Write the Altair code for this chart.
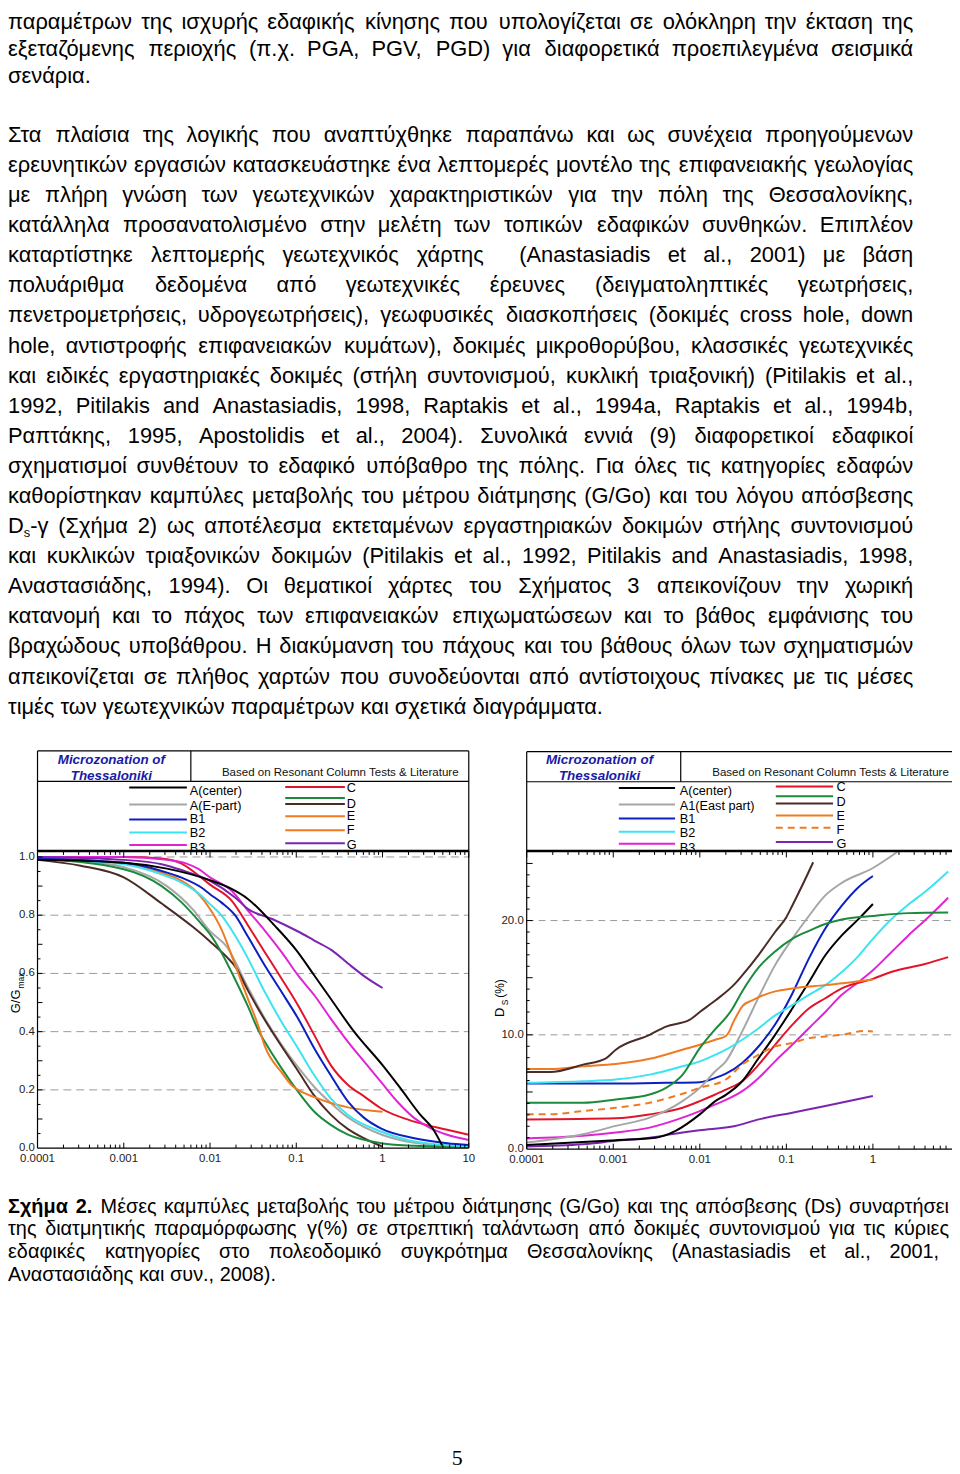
import re
import altair as alt
import pandas as pd

FONT = "Liberation Sans"

# ============================ DATA ============================
# Left panel: G/Gmax versus shear strain gamma (%)
GG_ACENTER_X = [0.0001, 0.001, 0.00316, 0.01, 0.0178, 0.0277, 0.0562, 0.1, 0.162, 0.251, 0.468, 1.0, 1.62, 2.75, 3.8, 4.9]
GG_ACENTER_Y = [0.99, 0.98, 0.96, 0.92, 0.89, 0.855, 0.764, 0.68, 0.593, 0.513, 0.40, 0.285, 0.205, 0.114, 0.068, 0.01]
GG_AEAST_X = [0.0001, 0.000316, 0.001, 0.00316, 0.00631, 0.01, 0.0158, 0.0277, 0.0432, 0.0676, 0.105, 0.162, 0.251, 0.398, 0.631, 1.0, 2.34, 5.62, 10]
GG_AEAST_Y = [0.99, 0.985, 0.965, 0.90, 0.82, 0.745, 0.69, 0.55, 0.445, 0.355, 0.278, 0.21, 0.155, 0.105, 0.07, 0.045, 0.018, 0.008, 0.005]
GG_B1_X = [0.0001, 0.001, 0.00275, 0.00468, 0.00794, 0.01, 0.0135, 0.0195, 0.0277, 0.0432, 0.0676, 0.105, 0.162, 0.251, 0.398, 0.617, 0.955, 2.34, 5.62, 10]
GG_B1_Y = [0.995, 0.98, 0.952, 0.929, 0.895, 0.872, 0.844, 0.80, 0.725, 0.627, 0.536, 0.445, 0.342, 0.25, 0.16, 0.103, 0.068, 0.034, 0.017, 0.011]
GG_B2_X = [0.0001, 0.001, 0.00275, 0.00468, 0.00794, 0.01, 0.0135, 0.0195, 0.0277, 0.0432, 0.0676, 0.105, 0.162, 0.251, 0.398, 0.955, 2.34, 10]
GG_B2_Y = [0.995, 0.975, 0.94, 0.912, 0.867, 0.838, 0.80, 0.73, 0.65, 0.536, 0.433, 0.342, 0.25, 0.171, 0.114, 0.057, 0.023, 0.006]
GG_B3_X = [0.0001, 0.001, 0.00316, 0.00525, 0.00741, 0.01, 0.0178, 0.0277, 0.0432, 0.0676, 0.105, 0.162, 0.251, 0.398, 0.617, 0.955, 1.48, 2.34, 3.63, 5.62, 10]
GG_B3_Y = [1.0, 1.0, 0.99, 0.978, 0.958, 0.93, 0.884, 0.815, 0.747, 0.673, 0.593, 0.525, 0.445, 0.365, 0.296, 0.228, 0.16, 0.103, 0.068, 0.046, 0.028]
GG_C_X = [0.0001, 0.001, 0.00275, 0.00468, 0.00676, 0.01, 0.0178, 0.0277, 0.0432, 0.0676, 0.105, 0.162, 0.251, 0.398, 0.617, 0.955, 2.34, 5.62, 10]
GG_C_Y = [1.0, 1.0, 0.995, 0.977, 0.945, 0.905, 0.85, 0.764, 0.673, 0.582, 0.49, 0.388, 0.285, 0.217, 0.177, 0.137, 0.091, 0.063, 0.046]
GG_D_X = [0.0001, 0.001, 0.00275, 0.00468, 0.00794, 0.01, 0.0135, 0.0195, 0.0277, 0.0363, 0.0432, 0.0676, 0.105, 0.162, 0.251, 0.398, 0.955, 2.34, 10]
GG_D_Y = [0.994, 0.958, 0.90, 0.844, 0.77, 0.735, 0.673, 0.58, 0.485, 0.405, 0.365, 0.274, 0.194, 0.125, 0.08, 0.046, 0.017, 0.008, 0.004]
GG_BROWN_X = [0.0001, 0.000316, 0.001, 0.00275, 0.00631, 0.01, 0.0158, 0.02, 0.0277, 0.0432, 0.0676, 0.105, 0.162, 0.251, 0.398, 0.617, 1.0]
GG_BROWN_Y = [0.99, 0.97, 0.93, 0.84, 0.76, 0.71, 0.655, 0.62, 0.54, 0.44, 0.35, 0.265, 0.18, 0.115, 0.065, 0.033, 0.005]
GG_E_X = [0.0001, 0.001, 0.00275, 0.00468, 0.00676, 0.01, 0.0135, 0.0195, 0.0277, 0.0363, 0.0432, 0.0676, 0.0891, 0.105, 0.162, 0.251, 0.398, 1.0]
GG_E_Y = [0.995, 0.98, 0.946, 0.918, 0.884, 0.821, 0.753, 0.63, 0.51, 0.42, 0.35, 0.26, 0.215, 0.20, 0.175, 0.155, 0.14, 0.125]
GG_G_X = [0.0001, 0.001, 0.00275, 0.00468, 0.01, 0.0195, 0.0277, 0.0525, 0.105, 0.162, 0.257, 0.398, 0.617, 1.0]
GG_G_Y = [1.0, 0.99, 0.975, 0.955, 0.918, 0.861, 0.821, 0.787, 0.744, 0.713, 0.68, 0.634, 0.59, 0.55]

# Right panel: damping Ds (%) versus shear strain gamma (%)
DS_ACENTER_X = [0.0001, 0.00107, 0.00309, 0.00525, 0.01, 0.0151, 0.02, 0.0309, 0.0479, 0.0741, 0.117, 0.182, 0.282, 0.437, 0.676, 1.0]
DS_ACENTER_Y = [0.35, 0.78, 1.0, 1.6, 3.04, 4.2, 4.75, 5.94, 7.97, 10.0, 12.3, 14.6, 16.96, 18.7, 20.1, 21.45]
DS_A1EAST_X = [0.0001, 0.000447, 0.00107, 0.00263, 0.00631, 0.01, 0.0151, 0.02, 0.0309, 0.0479, 0.0741, 0.117, 0.182, 0.282, 0.437, 1.0, 1.91]
DS_A1EAST_Y = [0.58, 1.3, 2.03, 2.75, 4.2, 5.36, 6.81, 7.68, 10.3, 13.3, 16.1, 18.4, 20.4, 22.2, 23.3, 24.6, 26.0]
DS_B1_X = [0.0001, 0.00107, 0.00407, 0.01, 0.0151, 0.02, 0.0309, 0.0479, 0.0741, 0.117, 0.182, 0.282, 0.437, 0.676, 1.0]
DS_B1_Y = [5.74, 5.74, 5.8, 5.86, 6.23, 6.6, 7.54, 9.0, 10.9, 13.6, 16.67, 19.3, 21.3, 22.9, 23.9]
DS_B2_X = [0.0001, 0.000447, 0.00107, 0.00263, 0.00631, 0.01, 0.0151, 0.02, 0.0309, 0.0479, 0.0741, 0.117, 0.182, 0.282, 0.437, 0.692, 1.0, 1.62, 2.57, 3.98, 7.41]
DS_B2_Y = [5.8, 5.94, 6.09, 6.52, 7.25, 7.68, 8.26, 8.7, 9.57, 10.58, 11.7, 12.6, 13.5, 14.35, 15.5, 16.96, 18.4, 20.1, 21.4, 22.5, 24.3]
DS_B3_X = [0.0001, 0.000447, 0.00107, 0.00263, 0.00631, 0.01, 0.0151, 0.02, 0.0309, 0.0479, 0.0741, 0.117, 0.182, 0.282, 0.437, 0.676, 1.0, 1.62, 2.57, 3.98, 7.41]
DS_B3_Y = [0.93, 1.16, 1.45, 1.88, 2.75, 3.33, 3.91, 4.3, 5.07, 6.23, 7.68, 9.13, 10.58, 12.0, 13.5, 14.6, 15.65, 17.2, 18.7, 20.0, 22.0]
DS_C_X = [0.0001, 0.00107, 0.00263, 0.00631, 0.01, 0.0151, 0.02, 0.0309, 0.0479, 0.0741, 0.117, 0.182, 0.282, 0.437, 1.0, 1.62, 3.98, 7.41]
DS_C_Y = [2.6, 2.7, 3.04, 3.62, 4.2, 4.78, 5.2, 5.94, 7.39, 9.13, 10.87, 12.3, 13.2, 14.06, 14.9, 15.5, 16.2, 16.8]
DS_D_X = [0.0001, 0.000447, 0.00107, 0.00263, 0.00407, 0.00631, 0.01, 0.0151, 0.02, 0.0234, 0.0309, 0.0479, 0.0741, 0.117, 0.182, 0.282, 0.437, 1.0, 2.57, 7.41]
DS_D_Y = [4.06, 4.06, 4.35, 4.78, 5.36, 6.5, 8.84, 10.5, 11.5, 12.2, 13.8, 15.9, 17.3, 18.4, 19.1, 19.7, 20.1, 20.4, 20.65, 20.7]
DS_BROWN_X = [0.0001, 0.000186, 0.000447, 0.000832, 0.00107, 0.00263, 0.00407, 0.00759, 0.01, 0.0151, 0.0257, 0.0309, 0.0479, 0.0741, 0.1, 0.117, 0.151, 0.204]
DS_BROWN_Y = [6.75, 6.75, 7.39, 7.97, 8.7, 10.0, 10.72, 11.3, 12.0, 13.0, 14.5, 15.2, 17.0, 19.0, 20.3, 21.3, 23.0, 25.1]
DS_E_X = [0.0001, 0.000186, 0.000447, 0.00107, 0.00263, 0.00631, 0.01, 0.0151, 0.02, 0.0219, 0.024, 0.0282, 0.0309, 0.0398, 0.0479, 0.0741, 0.117, 0.282, 1.0]
DS_E_Y = [7.0, 7.0, 7.25, 7.45, 7.9, 8.7, 9.13, 9.57, 9.9, 10.3, 11.0, 12.0, 12.5, 13.0, 13.3, 13.8, 14.06, 14.35, 14.85]
DS_F_X = [0.0001, 0.000186, 0.000447, 0.00107, 0.00263, 0.00631, 0.01, 0.02, 0.0309, 0.0479, 0.0741, 0.117, 0.182, 0.282, 0.437, 0.813, 1.0]
DS_F_Y = [3.04, 3.04, 3.33, 3.62, 4.06, 4.84, 5.36, 6.09, 7.39, 8.26, 8.99, 9.28, 9.71, 9.86, 10.0, 10.35, 10.3]
DS_G_X = [0.0001, 0.000447, 0.00107, 0.00263, 0.00631, 0.01, 0.0257, 0.0479, 0.117, 0.282, 1.0]
DS_G_Y = [0.23, 0.43, 0.72, 1.0, 1.45, 1.65, 2.03, 2.6, 3.19, 3.77, 4.64]

SERIES_KEYS = ["A_center", "A_east", "B1", "B2", "B3", "C", "D", "Dbrown", "E", "F", "G"]
SERIES_COLORS = ["#000000", "#a6a6a6", "#0c1fc0", "#3ae4f0", "#e024d4", "#e3142a", "#1c8a3c", "#4b2b25", "#f07a22", "#f07a22", "#7a24b0"]

X_TICK_VALUES = [0.0001, 0.001, 0.01, 0.1, 1, 10]
X_TICK_LABELS = ["0.0001", "0.001", "0.01", "0.1", "1", "10"]
GG_TICK_VALUES = [0.0, 0.2, 0.4, 0.6, 0.8, 1.0]
GG_TICK_LABELS = ["0.0", "0.2", "0.4", "0.6", "0.8", "1.0"]
DS_TICK_VALUES = [0.0, 10.0, 20.0]
DS_TICK_LABELS = ["0.0", "10.0", "20.0"]
LOG_MULTIPLIERS = [2, 3, 4, 5, 6, 7, 8, 9]

BODY_LINES = [
    "παραμέτρων της ισχυρής εδαφικής κίνησης που υπολογίζεται σε ολόκληρη την έκταση της",
    "εξεταζόμενης περιοχής (π.χ. PGA, PGV, PGD) για διαφορετικά προεπιλεγμένα σεισμικά",
    "σενάρια.",
    "",
    "Στα πλαίσια της λογικής που αναπτύχθηκε παραπάνω και ως συνέχεια προηγούμενων",
    "ερευνητικών εργασιών κατασκευάστηκε ένα λεπτομερές μοντέλο της επιφανειακής γεωλογίας",
    "με πλήρη γνώση των γεωτεχνικών χαρακτηριστικών για την πόλη της Θεσσαλονίκης,",
    "κατάλληλα προσανατολισμένο στην μελέτη των τοπικών εδαφικών συνθηκών. Επιπλέον",
    "καταρτίστηκε λεπτομερής γεωτεχνικός χάρτης  (Anastasiadis et al., 2001) με βάση",
    "πολυάριθμα δεδομένα από γεωτεχνικές έρευνες (δειγματοληπτικές γεωτρήσεις,",
    "πενετρομετρήσεις, υδρογεωτρήσεις), γεωφυσικές διασκοπήσεις (δοκιμές cross hole, down",
    "hole, αντιστροφής επιφανειακών κυμάτων), δοκιμές μικροθορύβου, κλασσικές γεωτεχνικές",
    "και ειδικές εργαστηριακές δοκιμές (στήλη συντονισμού, κυκλική τριαξονική) (Pitilakis et al.,",
    "1992, Pitilakis and Anastasiadis, 1998, Raptakis et al., 1994a, Raptakis et al., 1994b,",
    "Ραπτάκης, 1995, Apostolidis et al., 2004). Συνολικά εννιά (9) διαφορετικοί εδαφικοί",
    "σχηματισμοί συνθέτουν το εδαφικό υπόβαθρο της πόλης. Για όλες τις κατηγορίες εδαφών",
    "καθορίστηκαν καμπύλες μεταβολής του μέτρου διάτμησης (G/Go) και του λόγου απόσβεσης",
    "D{s}-γ (Σχήμα 2) ως αποτέλεσμα εκτεταμένων εργαστηριακών δοκιμών στήλης συντονισμού",
    "και κυκλικών τριαξονικών δοκιμών (Pitilakis et al., 1992, Pitilakis and Anastasiadis, 1998,",
    "Αναστασιάδης, 1994). Οι θεματικοί χάρτες του Σχήματος 3 απεικονίζουν την χωρική",
    "κατανομή και το πάχος των επιφανειακών επιχωματώσεων και το βάθος εμφάνισης του",
    "βραχώδους υποβάθρου. Η διακύμανση του πάχους και του βάθους όλων των σχηματισμών",
    "απεικονίζεται σε πλήθος χαρτών που συνοδεύονται από αντίστοιχους πίνακες με τις μέσες",
    "τιμές των γεωτεχνικών παραμέτρων και σχετικά διαγράμματα.",
]
BODY_PARAGRAPH_ENDS = [2, 23]

CAPTION_LINES = [
    "Σχήμα 2. Μέσες καμπύλες μεταβολής του μέτρου διάτμησης (G/Go) και της απόσβεσης (Ds) συναρτήσει",
    "της διατμητικής παραμόρφωσης γ(%) σε στρεπτική ταλάντωση από δοκιμές συντονισμού για τις κύριες",
    "εδαφικές κατηγορίες στο πολεοδομικό συγκρότημα Θεσσαλονίκης (Anastasiadis et al., 2001,",
    "Αναστασιάδης και συν., 2008).",
]
PAGE_NUMBER = "5"

# ============================ LAYOUT ============================
# (pixel positions inside the single 950 x 1466 view; view origin = page (8, 8))
W_VIEW, H_VIEW = 950, 1466
XL = alt.Scale(type="log", domain=[0.0001, 10], range=[29.7, 463.7], nice=False)
YL = alt.Scale(type="linear", domain=[0, 1], range=[1142.7, 849.7], nice=False, zero=False)
XR = alt.Scale(type="log", domain=[0.0001, 1], range=[522, 870.4], nice=False)
YR = alt.Scale(type="linear", domain=[0, 20], range=[1143.7, 913.7], nice=False, zero=False)
CSCALE = alt.Scale(domain=SERIES_KEYS, range=SERIES_COLORS)


def series_frame(series):
    rows = []
    for key, xs, ys in series:
        for i, (a, b) in enumerate(zip(xs, ys)):
            rows.append({"s": key, "g": a, "v": b, "i": i})
    return pd.DataFrame(rows)


def curves(df, xs, ys, **mk):
    return alt.Chart(df).mark_line(strokeWidth=2, interpolate="monotone", **mk).encode(
        x=alt.X("g:Q", scale=xs, axis=None),
        y=alt.Y("v:Q", scale=ys, axis=None),
        color=alt.Color("s:N", scale=CSCALE, legend=None),
        detail="s:N",
        order="i:Q",
    )


def grid(values, x0, x1, xs, ys, dash):
    df = pd.DataFrame({"gv": values, "x0": [x0] * len(values), "x1": [x1] * len(values)})
    return alt.Chart(df).mark_rule(color="#9a9a9a", strokeWidth=1, strokeDash=dash).encode(
        x=alt.X("x0:Q", scale=xs, axis=None), x2="x1:Q", y=alt.Y("gv:Q", scale=ys, axis=None)
    )


def xticks(values, xs, y0, y1):
    return alt.Chart(pd.DataFrame({"t": values})).mark_rule(color="#000", strokeWidth=1).encode(
        x=alt.X("t:Q", scale=xs, axis=None), y=alt.value(y0), y2=alt.value(y1)
    )


def yticks(values, ys, x0, x1):
    return alt.Chart(pd.DataFrame({"t": values})).mark_rule(color="#000", strokeWidth=1).encode(
        y=alt.Y("t:Q", scale=ys, axis=None), x=alt.value(x0), x2=alt.value(x1)
    )


def xlabels(values, labels, xs, y):
    df = pd.DataFrame({"t": values, "lab": labels})
    return alt.Chart(df).mark_text(font=FONT, fontSize=11.5, color="#222", baseline="middle", align="center").encode(
        x=alt.X("t:Q", scale=xs, axis=None), y=alt.value(y), text="lab:N"
    )


def ylabels(values, labels, ys, x):
    df = pd.DataFrame({"t": values, "lab": labels})
    return alt.Chart(df).mark_text(font=FONT, fontSize=11.5, color="#222", baseline="middle", align="right").encode(
        y=alt.Y("t:Q", scale=ys, axis=None), x=alt.value(x), text="lab:N"
    )


def seg_layer(segs, width, color="#000", dash=None):
    df = pd.DataFrame(segs, columns=["x", "y", "x2", "y2"])
    kw = dict(color=color, strokeWidth=width)
    if dash:
        kw["strokeDash"] = dash
    return alt.Chart(df).mark_rule(**kw).encode(
        x=alt.X("x:Q", scale=None, axis=None), y=alt.Y("y:Q", scale=None, axis=None), x2="x2:Q", y2="y2:Q"
    )


def text_layer(rows, **mk):
    df = pd.DataFrame(rows, columns=["x", "y", "t"])
    return alt.Chart(df).mark_text(**mk).encode(
        x=alt.X("x:Q", scale=None, axis=None), y=alt.Y("y:Q", scale=None, axis=None), text="t:N"
    )


# ---------------- left panel ----------------
left_df = series_frame([
    ("A_east", GG_AEAST_X, GG_AEAST_Y), ("Dbrown", GG_BROWN_X, GG_BROWN_Y), ("D", GG_D_X, GG_D_Y),
    ("E", GG_E_X, GG_E_Y), ("B2", GG_B2_X, GG_B2_Y), ("B1", GG_B1_X, GG_B1_Y), ("C", GG_C_X, GG_C_Y),
    ("B3", GG_B3_X, GG_B3_Y), ("G", GG_G_X, GG_G_Y), ("A_center", GG_ACENTER_X, GG_ACENTER_Y),
])
minor_l = [d * m for d in X_TICK_VALUES[:-1] for m in LOG_MULTIPLIERS]
left = alt.layer(
    grid(GG_TICK_VALUES[1:], 0.0001, 10, XL, YL, [8, 5]),
    curves(left_df, XL, YL),
    xticks(X_TICK_VALUES, XL, 843.7, 850.2),
    xticks(minor_l, XL, 843.7, 847.7),
    xticks(X_TICK_VALUES, XL, 1142.7, 1137.2),
    xticks(minor_l, XL, 1142.7, 1139.2),
    yticks([0.1, 0.2, 0.3, 0.4, 0.5, 0.6, 0.7, 0.8, 0.9, 1.0], YL, 29.7, 34.7),
    yticks([0.05, 0.15, 0.25, 0.35, 0.45, 0.55, 0.65, 0.75, 0.85, 0.95], YL, 29.7, 32.7),
    xlabels(X_TICK_VALUES, X_TICK_LABELS, XL, 1154),
    ylabels(GG_TICK_VALUES, GG_TICK_LABELS, YL, 27),
)

# ---------------- right panel ----------------
right_df = series_frame([
    ("G", DS_G_X, DS_G_Y), ("B3", DS_B3_X, DS_B3_Y), ("C", DS_C_X, DS_C_Y), ("A_center", DS_ACENTER_X, DS_ACENTER_Y),
    ("B1", DS_B1_X, DS_B1_Y), ("A_east", DS_A1EAST_X, DS_A1EAST_Y), ("B2", DS_B2_X, DS_B2_Y),
    ("E", DS_E_X, DS_E_Y), ("D", DS_D_X, DS_D_Y), ("Dbrown", DS_BROWN_X, DS_BROWN_Y),
])
right_f = series_frame([("F", DS_F_X, DS_F_Y)])
minor_r = [d * m for d in X_TICK_VALUES[:-1] for m in LOG_MULTIPLIERS if d * m < 7.5]
right = alt.layer(
    grid(DS_TICK_VALUES[1:], 0.0001, 8, XR, YR, [7, 5]),
    curves(right_df, XR, YR),
    curves(right_f, XR, YR, strokeDash=[7, 5]),
    xticks(X_TICK_VALUES[:-1], XR, 843.7, 850.2),
    xticks(minor_r, XR, 843.7, 847.7),
    xticks(X_TICK_VALUES[:-1], XR, 1143.7, 1138.2),
    xticks(minor_r, XR, 1143.7, 1140.2),
    yticks([5, 10, 15, 20, 25], YR, 522, 528),
    yticks([v for v in range(1, 26) if v % 5], YR, 522, 525),
    xlabels(X_TICK_VALUES[:-1], X_TICK_LABELS[:-1], XR, 1155),
    ylabels(DS_TICK_VALUES, DS_TICK_LABELS, YR, 519),
)

# ---------------- frames and legend boxes ----------------
thin = [
    (29.7, 743, 463.7, 743), (29.7, 743, 29.7, 1142.7), (463.7, 743, 463.7, 1142.7), (29.7, 1142.7, 463.7, 1142.7),
    (29.7, 773.7, 463.7, 773.7), (184, 743, 184, 773.7),
    (522, 743.7, 950, 743.7), (522, 743.7, 522, 1143.7), (522, 1143.7, 950, 1143.7),
    (522, 774, 950, 774), (677, 743.7, 677, 774),
]
thick = [(29.7, 843.7, 463.7, 843.7), (522, 843.7, 950, 843.7)]

leg_left = [
    (122, 180, 779.7, "A_center"), (122, 180, 797, "A_east"), (122, 180, 812, "B1"), (122, 180, 825, "B2"),
    (122, 180, 837.7, "B3"),
    (279, 339, 779.3, "C"), (279, 339, 790.3, "D"), (279, 339, 796.3, "Dbrown"), (279, 339, 808.7, "E"),
    (279, 339, 822.7, "F"), (279, 339, 836, "G"),
]
leg_right = [
    (614.7, 671.3, 780.3, "A_center"), (614.7, 671.3, 797, "A_east"), (614.7, 671.3, 811, "B1"),
    (614.7, 671.3, 824.3, "B2"), (614.7, 671.3, 836.3, "B3"),
    (772.7, 830.3, 778.7, "C"), (772.7, 830.3, 788.7, "D"), (772.7, 830.3, 796, "Dbrown"), (772.7, 830.3, 808, "E"),
    (772.7, 830.3, 834.7, "G"),
]
leg_solid = pd.DataFrame(leg_left + leg_right, columns=["x", "x2", "y", "s"])
legend_lines = alt.Chart(leg_solid).mark_rule(strokeWidth=2).encode(
    x=alt.X("x:Q", scale=None, axis=None), x2="x2:Q", y=alt.Y("y:Q", scale=None, axis=None),
    color=alt.Color("s:N", scale=CSCALE, legend=None),
)
legend_dashed = seg_layer([(772.7, 820.3, 830.3, 820.3)], 2, color="#f07a22", dash=[7, 5])

legend_text = [
    (183, 787, "A(center)"), (183, 802, "A(E-part)"), (183, 816, "B1"), (183, 829.7, "B2"), (183, 844.3, "B3"),
    (341, 784.3, "C"), (341, 800.3, "D"), (341, 813, "E"), (341, 827, "F"), (341, 842, "G"),
    (676, 787, "A(center)"), (676, 802, "A1(East part)"), (676, 816, "B1"), (676, 829.7, "B2"), (676, 844.3, "B3"),
    (833.7, 783.7, "C"), (833.7, 798.7, "D"), (833.7, 812, "E"), (833.7, 826.3, "F"), (833.7, 841, "G"),
]
title_text = [(104, 756.3, "Microzonation of"), (104, 772, "Thessaloniki"),
              (595.3, 756.3, "Microzonation of"), (595.3, 772, "Thessaloniki")]
based_text = [(215.3, 768.7, "Based on Resonant Column Tests & Literature"),
              (708.7, 768.7, "Based on Resonant Column Tests & Literature")]

# ---------------- page text (justified by words) ----------------
CW = {" ": 278, "!": 278, "%": 889, "&": 667, "(": 333, ")": 333, ",": 278, "-": 333, ".": 278, "/": 278,
      ":": 278, ";": 278}
for ch in "0123456789":
    CW[ch] = 556
CW.update(dict(zip("ABCDEFGHIJKLMNOPQRSTUVWXYZ",
                   [667, 667, 722, 722, 667, 611, 778, 722, 278, 500, 667, 556, 833, 722, 778, 667, 778, 722, 667,
                    611, 722, 667, 944, 667, 667, 611])))
CW.update(dict(zip("abcdefghijklmnopqrstuvwxyz",
                   [556, 556, 500, 556, 556, 278, 556, 556, 222, 222, 500, 222, 833, 556, 556, 556, 556, 333, 500,
                    278, 556, 500, 722, 500, 500, 500])))
CW.update({"α": 579, "ά": 579, "β": 570, "γ": 500, "δ": 556, "ε": 446, "έ": 446, "ζ": 443, "η": 556, "ή": 556,
           "θ": 556, "ι": 222, "ί": 222, "ϊ": 222, "κ": 500, "λ": 500, "μ": 576, "ν": 500, "ξ": 448, "ο": 556,
           "ό": 556, "π": 693, "ρ": 568, "σ": 616, "ς": 482, "τ": 395, "υ": 549, "ύ": 549, "φ": 718, "χ": 526,
           "ψ": 712, "ω": 781, "ώ": 781,
           "Α": 667, "Β": 667, "Γ": 551, "Δ": 668, "Ε": 667, "Ζ": 611, "Η": 722, "Θ": 778, "Ι": 278, "Κ": 667,
           "Λ": 668, "Μ": 833, "Ν": 722, "Ξ": 650, "Ο": 778, "Π": 722, "Ρ": 667, "Σ": 618, "Τ": 611, "Υ": 667,
           "Φ": 797, "Χ": 667, "Ψ": 835, "Ω": 748})
SUB = 13.0


def tw(s, size, bold=False):
    w = sum(CW.get(c, 556) for c in s) * size / 1000.0
    return w * 1.07 if bold else w


def pieces(word):
    out, pos = [], 0
    for m in re.finditer(r"\{([^}]*)\}", word):
        if m.start() > pos:
            out.append((word[pos:m.start()], False))
        out.append((m.group(1), True))
        pos = m.end()
    if pos < len(word):
        out.append((word[pos:], False))
    return out


def wword(word, size, bold):
    return sum(tw(t, SUB if sb else size, bold) for t, sb in pieces(word))


groups = {}


def emit(key, x, y, t):
    groups.setdefault(key, []).append((x, y, t))


def put_word(word, x, y, size, bold, align):
    ps = pieces(word)
    if len(ps) == 1 and not ps[0][1]:
        emit((size, bold, align), x, y, word)
        return
    cx = x if align == "left" else x - wword(word, size, bold)
    for t, sb in ps:
        if sb:
            emit((SUB, bold, "left"), cx, y + 4, t)
            cx += tw(t, SUB, bold)
        else:
            emit((size, bold, "left"), cx, y, t)
            cx += tw(t, size, bold)


def justify(line, y, L, R, size, nbold=0):
    words, sps, pending = [], [], 0
    for p in line.split(" "):
        if p == "":
            pending += 1
            continue
        sps.append(pending + (1 if words else 0))
        words.append(p)
        pending = 0
    ws = [wword(w, size, i < nbold) for i, w in enumerate(words)]
    sp = (R - L - sum(ws)) / max(1, sum(sps))
    nleft = (len(words) + 1) // 2
    for i, w in enumerate(words):
        if i < nleft:
            x = L + sum(ws[:i]) + sum(sps[:i + 1]) * sp
            put_word(w, x, y, size, i < nbold, "left")
        else:
            r = R - sum(ws[i + 1:]) - sum(sps[i + 1:]) * sp
            put_word(w, r, y, size, i < nbold, "right")


BODY_SIZE, CAP_SIZE = 22.0, 20.0
# first lines nudged down so that the accents stay inside the drawable page
BODY_NUDGE = {0: 7.5, 1: 4.0, 2: 1.5}
for k, line in enumerate(BODY_LINES):
    if not line:
        continue
    y = 9 + k * 30.28 + BODY_NUDGE.get(k, 0)
    if k in BODY_PARAGRAPH_ENDS:
        emit((BODY_SIZE, False, "left"), 0, y, line)
    else:
        justify(line, y, 0, 911, BODY_SIZE)

CAP_Y = [1207.7, 1230.5, 1253.3, 1276.0]
CAP_R = [947, 947, 937, None]
for k, line in enumerate(CAPTION_LINES):
    if CAP_R[k] is None:
        emit((CAP_SIZE, False, "left"), 0, CAP_Y[k], line)
    else:
        justify(line, CAP_Y[k], 0, CAP_R[k], CAP_SIZE, nbold=2 if k == 0 else 0)

page_layers = []
for (size, bold, align), rows in groups.items():
    page_layers.append(text_layer(rows, font=FONT, fontSize=size, fontWeight="bold" if bold else "normal",
                                  align=align, baseline="alphabetic", color="#000"))

deco = [
    seg_layer(thin, 1.2),
    legend_lines,
    legend_dashed,
    text_layer(legend_text, font=FONT, fontSize=12.8, align="left", baseline="alphabetic", color="#000"),
    seg_layer(thick, 2.5),
    text_layer(title_text, font=FONT, fontSize=13.5, fontWeight="bold", fontStyle="italic", align="center",
               baseline="alphabetic", color="#1a1aa6"),
    text_layer(based_text, font=FONT, fontSize=11.6, align="left", baseline="alphabetic", color="#111"),
    # axis titles (with subscripts)
    text_layer([(8, 995, "G/G")], font=FONT, fontSize=13, angle=270, align="center", baseline="middle", color="#000"),
    text_layer([(13, 974, "max")], font=FONT, fontSize=8.5, angle=270, align="center", baseline="middle", color="#000"),
    text_layer([(495, 1006, "D")], font=FONT, fontSize=13, angle=270, align="center", baseline="middle", color="#000"),
    text_layer([(500, 996, "S")], font=FONT, fontSize=8.5, angle=270, align="center", baseline="middle", color="#000"),
    text_layer([(495, 982, "(%)")], font=FONT, fontSize=12, angle=270, align="center", baseline="middle", color="#000"),
    text_layer([(452, 1462, PAGE_NUMBER)], font="Liberation Serif", fontSize=22, align="center", baseline="alphabetic",
               color="#000"),
]

chart = alt.layer(left, right, *deco, *page_layers).resolve_scale(
    x="independent", y="independent", color="independent"
).properties(
    width=W_VIEW, height=H_VIEW, padding=0, autosize=alt.AutoSizeParams(type="none")
).configure_view(strokeOpacity=0)

chart.save("out.html", embed_options={"renderer": "svg", "actions": False})
